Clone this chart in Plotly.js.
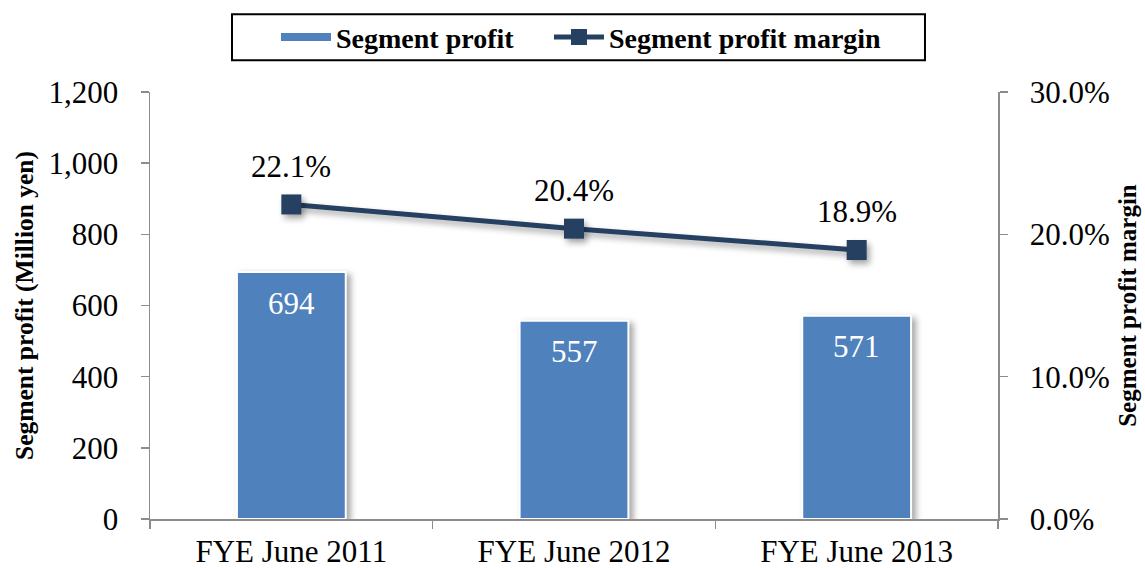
<!DOCTYPE html>
<html>
<head>
<meta charset="utf-8">
<script src="https://cdn.plot.ly/plotly-3.0.1.min.js"></script>
<style>
  html, body { margin: 0; padding: 0; background: #fff; }
  #chart { width: 1145px; height: 568px; }
  .trace.bars path { filter: drop-shadow(4px 3px 3px rgba(0,0,0,0.35)); }
  .scatterlayer .trace .lines path, .scatterlayer .trace .points path { filter: drop-shadow(3px 4px 3px rgba(0,0,0,0.35)); }
</style>
</head>
<body>
<div id="chart"></div>
<script>
// ---- data ----
const categories = ["FYE June 2011", "FYE June 2012", "FYE June 2013"];
const segmentProfit = [694, 557, 571];
const profitMargin = [0.221, 0.204, 0.189];
const barName = "Segment profit";
const lineName = "Segment profit margin";
const leftTitle = "Segment profit (Million yen)";
const rightTitle = "Segment profit margin";

// ---- styles ----
const FONT = "Liberation Serif";
const BAR_COLOR = "#4F81BD";
const LINE_COLOR = "#254061";
const AXIS_COLOR = "#8c8c8c";

const barTrace = {
  type: "bar",
  x: categories,
  y: segmentProfit,
  name: barName,
  showlegend: false,
  marker: { color: BAR_COLOR, line: { color: "#ffffff", width: 2 } },
  hoverinfo: "x+y",
  yaxis: "y"
};

// legend-only entry drawn as a wide short bar like the original
const barLegend = {
  type: "scatter",
  mode: "lines",
  x: [null],
  y: [null],
  name: barName,
  line: { color: BAR_COLOR, width: 8 },
  hoverinfo: "skip",
  yaxis: "y",
  legend: "legend"
};

const lineTrace = {
  type: "scatter",
  mode: "lines+markers",
  x: categories,
  y: profitMargin,
  name: lineName,
  yaxis: "y2",
  line: { color: LINE_COLOR, width: 5 },
  marker: { symbol: "square", size: 20, color: LINE_COLOR },
  legend: "legend2"
};

const annotations = [];
categories.forEach((c, i) => {
  annotations.push({
    x: c, y: segmentProfit[i], xref: "x", yref: "y",
    text: String(segmentProfit[i]), showarrow: false,
    yanchor: "middle", yshift: -31,
    font: { family: FONT, size: 31, color: "#ffffff" }
  });
  annotations.push({
    x: c, y: profitMargin[i], xref: "x", yref: "y2",
    text: (profitMargin[i] * 100).toFixed(1) + "%", showarrow: false,
    yanchor: "middle", yshift: 38,
    font: { family: FONT, size: 31, color: "#000000" }
  });
});

const legendCommon = {
  orientation: "h",
  xanchor: "left",
  y: 1.128, yanchor: "middle",
  bgcolor: "rgba(0,0,0,0)",
  borderwidth: 0,
  font: { family: FONT, size: 28, color: "#000000", weight: "bold" },
  itemwidth: 50
};

const layout = {
  width: 1145,
  height: 568,
  margin: { l: 150, r: 147, t: 90, b: 49 },
  paper_bgcolor: "#ffffff",
  plot_bgcolor: "#ffffff",
  font: { family: FONT, color: "#000000", size: 31 },
  bargap: 0.615,
  showlegend: true,
  legend: Object.assign({}, legendCommon, { x: 0.1486 }),
  legend2: Object.assign({}, legendCommon, { x: 0.4705 }),
  shapes: [{
    type: "rect", xref: "paper", yref: "paper",
    x0: 0.0967, x1: 0.9139, y0: 1.0746, y1: 1.1818,
    line: { color: "#000000", width: 2 }, fillcolor: "rgba(0,0,0,0)", layer: "below"
  }],
  xaxis: {
    type: "category",
    showgrid: false,
    zeroline: false,
    showline: true,
    linecolor: AXIS_COLOR,
    linewidth: 1.5,
    ticks: "outside",
    tickson: "boundaries",
    ticklen: 8,
    tickwidth: 1.5,
    tickcolor: AXIS_COLOR,
    tickfont: { family: FONT, size: 31, color: "#000000" },
    ticklabelstandoff: 4
  },
  yaxis: {
    range: [0, 1200],
    dtick: 200,
    tickformat: ",",
    showgrid: false,
    zeroline: false,
    showline: true,
    linecolor: AXIS_COLOR,
    linewidth: 1.5,
    ticks: "outside",
    ticklen: 8,
    tickwidth: 1.5,
    tickcolor: AXIS_COLOR,
    tickfont: { family: FONT, size: 31, color: "#000000" },
    ticklabelstandoff: 16,
    title: {
      text: leftTitle,
      font: { family: FONT, size: 25.5, color: "#000000", weight: "bold" },
      standoff: 7
    }
  },
  yaxis2: {
    overlaying: "y",
    side: "right",
    range: [0, 0.3],
    dtick: 0.1,
    tickformat: ".1%",
    showgrid: false,
    zeroline: false,
    showline: true,
    linecolor: AXIS_COLOR,
    linewidth: 1.5,
    ticks: "outside",
    ticklen: 8,
    tickwidth: 1.5,
    tickcolor: AXIS_COLOR,
    tickfont: { family: FONT, size: 31, color: "#000000" },
    ticklabelstandoff: 16,
    title: {
      text: rightTitle,
      font: { family: FONT, size: 25, color: "#000000", weight: "bold" },
      standoff: 9
    }
  },
  annotations: annotations
};

Plotly.newPlot("chart", [barTrace, barLegend, lineTrace], layout, { displayModeBar: false, staticPlot: true });
</script>
</body>
</html>
